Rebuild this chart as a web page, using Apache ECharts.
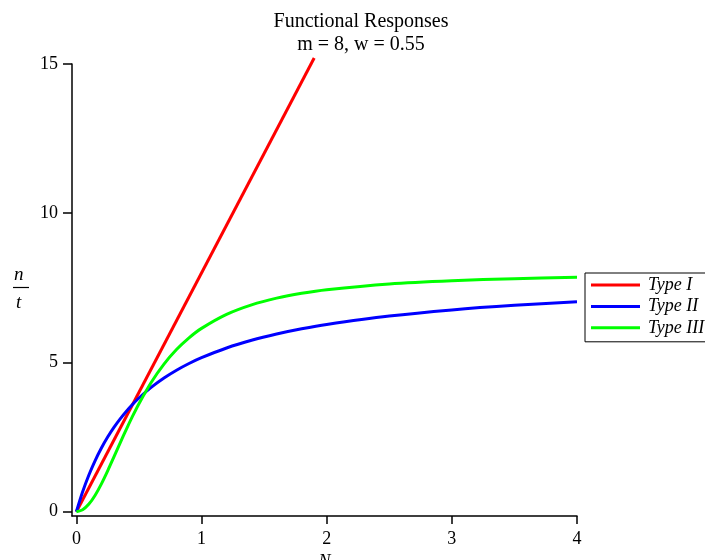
<!DOCTYPE html>
<html>
<head>
<meta charset="utf-8">
<script src="https://cdn.jsdelivr.net/npm/echarts@6/dist/echarts.min.js"></script>
<style>
  html, body { margin: 0; padding: 0; background: #fff; }
  #chart { width: 705px; height: 560px; }
</style>
</head>
<body>
<div id="chart"></div>
<script>
// values
const xTicks = [0, 1, 2, 3, 4];
const yTicks = [0, 5, 10, 15];
const seriesNames = ['Type I', 'Type II', 'Type III'];

const typeIN = [0, 1.9];
const typeIY = [0, 15.2];

const preyN = [0, 0.05, 0.1, 0.15, 0.2, 0.25, 0.3, 0.35, 0.4, 0.45, 0.5, 0.6, 0.7, 0.8, 0.9,
  1.0, 1.2, 1.4, 1.6, 1.8, 2.0, 2.5, 3.0, 3.5, 4.0];
const typeIIY = [0, 0.667, 1.231, 1.714, 2.133, 2.5, 2.824, 3.111, 3.368, 3.6, 3.81, 4.174, 4.48, 4.741, 4.966,
  5.161, 5.486, 5.744, 5.953, 6.128, 6.275, 6.557, 6.761, 6.914, 7.033];
const typeIIIY = [0, 0.066, 0.256, 0.554, 0.934, 1.37, 1.834, 2.306, 2.768, 3.208, 3.62, 4.347, 4.946, 5.432, 5.825,
  6.142, 6.611, 6.93, 7.155, 7.317, 7.438, 7.631, 7.74, 7.807, 7.852];

const colors = ['#ff0000', '#0000ff', '#00ff00'];
const serif = 'Liberation Serif';

function pairs(xs, ys) {
  return xs.map((x, i) => [x, ys[i]]);
}

const chart = echarts.init(document.getElementById('chart'));

chart.setOption({
  animation: false,
  grid: { left: 72, right: 128, top: 64, bottom: 44, outerBoundsMode: 'none' },
  legend: {
    data: seriesNames,
    orient: 'vertical',
    left: 585,
    top: 273,
    icon: 'rect',
    itemWidth: 49,
    itemHeight: 3,
    itemGap: 3.4,
    padding: [3, 12, 5, 6],
    borderColor: '#000',
    borderWidth: 1,
    textStyle: { fontFamily: serif, fontStyle: 'italic', fontSize: 18, lineHeight: 18, color: '#000', padding: [0, 0, 0, 3] }
  },
  xAxis: {
    type: 'value',
    min: -0.035,
    max: 4,
    splitLine: { show: false },
    axisLine: { onZero: false, lineStyle: { color: '#000', width: 1.5 } },
    axisTick: { customValues: xTicks, length: 8, lineStyle: { color: '#000', width: 1.5 } },
    axisLabel: { customValues: xTicks, margin: 14, fontFamily: serif, fontSize: 18, color: '#000' },
    name: 'N',
    nameLocation: 'middle',
    nameGap: 34,
    nameTextStyle: { fontFamily: serif, fontStyle: 'italic', fontSize: 18, color: '#000' }
  },
  yAxis: {
    type: 'value',
    min: -0.144,
    max: 15,
    splitLine: { show: false },
    axisLine: { onZero: false, lineStyle: { color: '#000', width: 1.5 } },
    axisTick: { customValues: yTicks, length: 9, lineStyle: { color: '#000', width: 1.5 } },
    axisLabel: { customValues: yTicks, margin: 14, fontFamily: serif, fontSize: 18, color: '#000' }
  },
  graphic: [
    // title, centred a little right of the canvas middle like the original
    { type: 'text', x: 361, y: 10, style: { text: 'Functional Responses\nm = 8, w = 0.55', align: 'center', verticalAlign: 'top',
      fontFamily: serif, fontSize: 20, lineHeight: 23, fill: '#000' } },
    // n/t axis label
    { type: 'text', left: 14, top: 265, style: { text: 'n', fontFamily: serif, fontStyle: 'italic', fontSize: 19, fill: '#000' } },
    { type: 'line', shape: { x1: 13, y1: 287.5, x2: 29, y2: 287.5 }, style: { stroke: '#000', lineWidth: 1.2 } },
    { type: 'text', left: 16, top: 293, style: { text: 't', fontFamily: serif, fontStyle: 'italic', fontSize: 19, fill: '#000' } }
  ],
  series: [
    { name: seriesNames[0], type: 'line', data: pairs(typeIN, typeIY), symbol: 'none', clip: false,
      lineStyle: { color: colors[0], width: 3 }, itemStyle: { color: colors[0] } },
    { name: seriesNames[1], type: 'line', data: pairs(preyN, typeIIY), symbol: 'none', smooth: 0.3,
      lineStyle: { color: colors[1], width: 3 }, itemStyle: { color: colors[1] } },
    { name: seriesNames[2], type: 'line', data: pairs(preyN, typeIIIY), symbol: 'none', smooth: 0.3,
      lineStyle: { color: colors[2], width: 3 }, itemStyle: { color: colors[2] } }
  ]
});
</script>
</body>
</html>
